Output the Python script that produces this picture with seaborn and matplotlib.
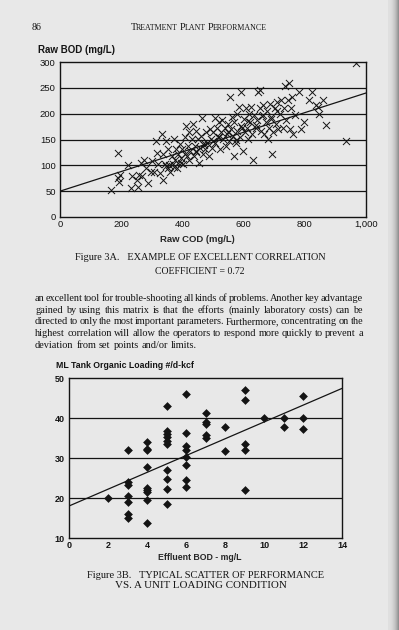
import matplotlib
matplotlib.use("Agg")
import matplotlib.pyplot as plt
import seaborn as sns
import numpy as np

# Figure 3A - raw COD vs raw BOD (mg/L)
raw_cod = [168, 189, 189, 192, 196, 222, 236, 231, 251, 255, 258, 264, 269, 275, 280, 288,
           297, 302, 308, 313, 317, 321, 327, 332, 335, 338, 343, 346, 352, 354, 357, 360,
           365, 368, 371, 376, 379, 382, 385, 387, 391, 396, 399, 402, 407, 409, 413, 418,
           420, 423, 426, 431, 434, 437, 440, 443, 446, 451, 454, 457, 462, 464, 467, 470,
           475, 478, 481, 486, 489, 492, 497, 501, 505, 508, 512, 516, 520, 523, 527, 531,
           534, 539, 542, 545, 550, 553, 556, 558, 562, 565, 567, 570, 574, 577, 580, 584,
           587, 590, 593, 597, 600, 603, 607, 610, 613, 617, 621, 624, 629, 632, 635, 640,
           643, 648, 652, 655, 657, 662, 665, 668, 673, 676, 679, 684, 687, 690, 692, 697,
           701, 705, 710, 714, 719, 723, 728, 731, 736, 740, 744, 747, 750, 754, 758, 762,
           769, 780, 789, 797, 815, 824, 835, 844, 846, 859, 868, 934, 967,
           345, 372, 395, 415, 445, 470, 500, 520, 548, 575, 595, 615, 640, 660, 690, 710]
raw_bod = [52, 124, 75, 67, 82, 100, 79, 56, 72, 59, 82, 105, 79, 111, 95, 66,
           88, 108, 88, 147, 124, 102, 85, 160, 72, 121, 102, 147, 131, 95, 100, 88,
           118, 102, 151, 111, 131, 95, 121, 105, 141, 115, 131, 102, 154, 121, 177, 138,
           111, 164, 128, 151, 180, 118, 138, 167, 128, 151, 105, 134, 157, 192, 121, 144,
           131, 164, 144, 118, 170, 151, 134, 164, 192, 144, 173, 154, 183, 131, 164, 187,
           151, 173, 138, 160, 180, 147, 233, 170, 193, 157, 118, 183, 144, 200, 167, 213,
           154, 177, 242, 128, 190, 164, 210, 173, 151, 200, 183, 213, 160, 111, 197, 173,
           187, 242, 210, 246, 167, 197, 216, 160, 183, 206, 151, 173, 219, 193, 121, 164,
           210, 180, 223, 170, 200, 226, 173, 210, 254, 187, 226, 260, 170, 210, 233, 160,
           197, 241, 170, 183, 226, 242, 216, 213, 200, 227, 178, 147, 298,
           98, 96, 104, 118, 125, 140, 148, 155, 165, 150, 172, 185, 178, 195, 190, 205]
fit_a = (50, 0.19)          # intercept, slope
xticks_a = [0, 200, 400, 600, 800, 1000]
xlabels_a = ['0', '200', '400', '600', '800', '1,000']
yticks_a = [0, 50, 100, 150, 200, 250, 300]

# Figure 3B - effluent BOD vs ML tank organic loading
eff_bod = [2,
           3, 3, 3, 3, 3, 3, 3,
           4, 4, 4, 4, 4, 4, 4, 4, 4,
           5, 5, 5, 5, 5, 5, 5, 5, 5, 5,
           6, 6, 6, 6, 6, 6, 6, 6,
           7, 7, 7, 7, 7,
           8, 8,
           9, 9, 9, 9, 9,
           10,
           11, 11,
           12, 12, 12]
ml_loading = [20,
              32, 24, 23.3, 20.6, 19, 16, 15,
              34, 32.2, 31.9, 27.8, 22.5, 21.9, 21.4, 19.6, 13.8,
              42.9, 36.7, 36.1, 35.2, 34.3, 33.6, 27.1, 24.8, 22.2, 18.6,
              46.1, 36.2, 33.1, 32.1, 30.2, 28.3, 24.6, 22.8,
              41.2, 39, 38.6, 35.8, 35,
              37.8, 31.7,
              46.9, 44.6, 33.5, 31.9, 22.1,
              40,
              40, 37.7,
              45.6, 40, 37.2]
fit_b = (18, 2.1)
xticks_b = [0, 2, 4, 6, 8, 10, 12, 14]
yticks_b = [10, 20, 30, 40, 50]

paragraph = [
    "an excellent tool for trouble-shooting all kinds of problems. Another key advantage",
    "gained by using this matrix is that the efforts (mainly laboratory costs) can be",
    "directed to only the most important parameters. Furthermore, concentrating on the",
    "highest correlation will allow the operators to respond more quickly to prevent a",
    "deviation from set points and/or limits.",
]

PAGE = '#e8e8e8'
INK = '#141414'
SERIF = ['Liberation Serif', 'DejaVu Serif']
W, H = 399, 630

sns.set_theme(style='white', rc={'axes.facecolor': PAGE, 'figure.facecolor': PAGE,
                                 'axes.edgecolor': INK, 'text.color': INK,
                                 'xtick.color': INK, 'ytick.color': INK})
plt.rcParams['font.family'] = ['Liberation Sans', 'DejaVu Sans']

fig = plt.figure(figsize=(W / 100, H / 100), dpi=100)
renderer = fig.canvas.get_renderer()


def px_axes(left, top, right, bottom):
    return fig.add_axes([left / W, 1 - bottom / H, (right - left) / W, (bottom - top) / H])


def put(x, y, s, size, ha='left', va='center', **kw):
    return fig.text(x / W, 1 - y / H, s, fontsize=size, ha=ha, va=va, color=INK, **kw)


def width_of(t):
    return t.get_window_extent(renderer).width


def fit_line(x0, x1, y, s, size=8, **kw):
    # scale the font so the line spans x0..x1 pixels
    t = put(x0, y, s, size, **kw)
    t.set_fontsize(size * (x1 - x0) / width_of(t))
    return t


def justify(x0, x1, y, line, size, last=False):
    # words placed on a common baseline, spread to fill x0..x1
    words = line.split()
    ts = [put(x0, y + 3, w, size, va='baseline', family=SERIF) for w in words]
    ws = [width_of(t) for t in ts]
    gap = size * 0.28 * 100 / 72 if last else (x1 - x0 - sum(ws)) / (len(words) - 1)
    x = x0
    for t, w in zip(ts, ws):
        t.set_x(x / W)
        x += w + gap


def small_caps(xc, y, words, big, small):
    runs = []
    for i, w in enumerate(words):
        runs.append((w[0], big, i > 0))
        runs.append((w[1:], small, False))
    ts, total = [], 0
    space = big * 0.3 * 100 / 72
    for s, size, sp in runs:
        t = put(0, y + 3, s, size, va='baseline', family=SERIF)
        w = width_of(t) - 0.9
        ts.append((t, w, sp))
        total += w + (space if sp else 0)
    x = xc - total / 2
    for t, w, sp in ts:
        if sp:
            x += space
        t.set_x(x / W)
        x += w


# page header
put(32, 27, '86', 7.2, family=SERIF)
small_caps(198, 27, ['TREATMENT', 'PLANT', 'PERFORMANCE'], 7.4, 5.7)

# ---- Figure 3A ----
ax1 = px_axes(60, 62, 366, 217)
sns.scatterplot(x=raw_cod, y=raw_bod, marker='x', color=INK, s=26, linewidth=0.7, ax=ax1)
line_x = np.array([0, 1000])
ax1.plot(line_x, fit_a[0] + fit_a[1] * line_x, color=INK, lw=0.9)
for v in yticks_a[1:-1]:
    ax1.axhline(v, color=INK, lw=0.9, zorder=0)
ax1.set_xlim(0, 1000)
ax1.set_ylim(0, 300)
ax1.set_xticks(xticks_a, xlabels_a)
ax1.set_yticks(yticks_a)
ax1.tick_params(axis='x', direction='in', length=3, width=0.8, pad=2, labelsize=6.8)
ax1.tick_params(axis='y', length=0, pad=3, labelsize=6.8)
for sp in ax1.spines.values():
    sp.set_linewidth(1.0)
ax1.set_xlabel('Raw COD (mg/L)', fontsize=6.8, fontweight='bold')
ax1.xaxis.set_label_coords(0.45, -0.118)
put(38, 50, 'Raw BOD (mg/L)', 7, fontweight='bold')

fit_line(75, 328, 257, 'Figure 3A.   EXAMPLE OF EXCELLENT CORRELATION', family=SERIF)
fit_line(155, 245, 272, 'COEFFICIENT = 0.72', family=SERIF)

for i, line in enumerate(paragraph):
    justify(35, 363, 298 + i * 11.7, line, 7.35, last=(i == len(paragraph) - 1))

# ---- Figure 3B ----
ax2 = px_axes(69, 378, 342, 538)
sns.scatterplot(x=eff_bod, y=ml_loading, marker='D', color=INK, s=20, linewidth=0, ax=ax2)
line_x = np.array([0, 14])
ax2.plot(line_x, fit_b[0] + fit_b[1] * line_x, color=INK, lw=0.9)
for v in yticks_b[1:-1]:
    ax2.axhline(v, color=INK, lw=0.9, zorder=0)
ax2.set_xlim(0, 14)
ax2.set_ylim(10, 50)
ax2.set_xticks(xticks_b)
ax2.set_yticks(yticks_b)
ax2.tick_params(axis='x', direction='in', length=2, pad=2, labelsize=6.5)
ax2.tick_params(axis='y', length=0, pad=3, labelsize=6.5)
for lab in ax2.get_xticklabels() + ax2.get_yticklabels():
    lab.set_fontweight('bold')
for sp in ax2.spines.values():
    sp.set_linewidth(1.0)
ax2.set_xlabel('Effluent BOD - mg/L', fontsize=6.3, fontweight='bold')
ax2.xaxis.set_label_coords(0.48, -0.095)
put(56, 365, 'ML Tank Organic Loading #/d-kcf', 6.3, fontweight='bold')

fit_line(87, 325, 575, 'Figure 3B.   TYPICAL SCATTER OF PERFORMANCE', family=SERIF)
fit_line(115, 287, 586, 'VS. A UNIT LOADING CONDITION', family=SERIF)

# scanner shadow along the right edge
shade = fig.add_axes([388 / W, 0, 11 / W, 1])
grad = np.linspace(0, 1, 30)[None, :] ** 2
shade.imshow(grad, aspect='auto', cmap='Greys', vmin=-0.6, vmax=2.2, alpha=0.9)
shade.set_axis_off()

fig.savefig('out.png', dpi=100, facecolor=PAGE)
